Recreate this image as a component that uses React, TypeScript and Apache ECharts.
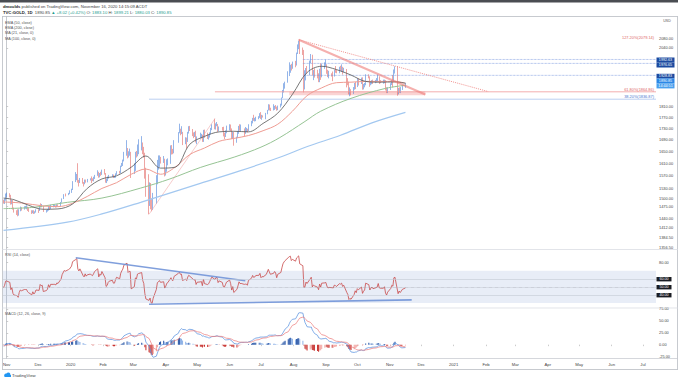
import React, { useEffect, useRef } from "react";
import * as echarts from "echarts";

const MONTH_NAMES = ["Jan", "Feb", "Mar", "Apr", "May", "Jun", "Jul", "Aug", "Sep", "Oct", "Nov", "Dec"];

// Daily candles: [day, open, high, low, close]
const oct2019 = [[29, 1493, 1495, 1483, 1488], [30, 1488, 1499, 1482, 1496], [31, 1496, 1514, 1492, 1513]];
const nov2019 = [[1, 1513, 1517, 1502, 1514], [4, 1514, 1515, 1502, 1510], [5, 1510, 1510, 1480, 1484], [6, 1484, 1494, 1481, 1491], [7, 1491, 1494, 1465, 1467], [8, 1467, 1471, 1456, 1459], [11, 1459, 1463, 1449, 1456], [12, 1456, 1466, 1445, 1448], [13, 1448, 1466, 1447, 1463], [14, 1463, 1474, 1460, 1471], [15, 1471, 1472, 1462, 1468], [18, 1468, 1475, 1465, 1472], [19, 1472, 1476, 1468, 1472], [20, 1472, 1478, 1466, 1472], [21, 1472, 1474, 1461, 1465], [22, 1465, 1470, 1458, 1462], [25, 1462, 1463, 1452, 1455], [26, 1455, 1463, 1454, 1462], [27, 1462, 1463, 1452, 1455], [28, 1455, 1460, 1453, 1458], [29, 1458, 1466, 1456, 1464]];
const dec2019 = [[2, 1464, 1466, 1455, 1463], [3, 1463, 1479, 1461, 1477], [4, 1477, 1484, 1471, 1474], [5, 1474, 1482, 1472, 1475], [6, 1475, 1476, 1458, 1460], [9, 1460, 1464, 1456, 1462], [10, 1462, 1467, 1459, 1465], [11, 1465, 1476, 1462, 1475], [12, 1475, 1477, 1464, 1469], [13, 1469, 1480, 1466, 1476], [16, 1476, 1479, 1472, 1476], [17, 1476, 1480, 1473, 1476], [18, 1476, 1478, 1471, 1475], [19, 1475, 1481, 1472, 1479], [20, 1479, 1481, 1474, 1478], [23, 1478, 1488, 1476, 1487], [24, 1487, 1499, 1486, 1498], [26, 1498, 1512, 1497, 1511], [27, 1511, 1514, 1505, 1510], [30, 1510, 1516, 1509, 1515], [31, 1515, 1524, 1512, 1517]];
const jan2020 = [[2, 1517, 1529, 1516, 1528], [3, 1528, 1553, 1525, 1551], [6, 1551, 1582, 1550, 1566], [7, 1566, 1576, 1556, 1574], [8, 1574, 1611, 1548, 1556], [9, 1556, 1557, 1536, 1552], [10, 1552, 1563, 1547, 1562], [13, 1562, 1563, 1545, 1548], [14, 1548, 1550, 1536, 1545], [15, 1545, 1558, 1543, 1557], [16, 1557, 1558, 1548, 1552], [17, 1552, 1560, 1549, 1557], [20, 1557, 1562, 1555, 1560], [21, 1560, 1568, 1547, 1558], [22, 1558, 1562, 1553, 1557], [23, 1557, 1567, 1552, 1563], [24, 1563, 1573, 1560, 1571], [27, 1571, 1588, 1570, 1582], [28, 1582, 1583, 1564, 1567], [29, 1567, 1579, 1565, 1577], [30, 1577, 1583, 1570, 1575], [31, 1575, 1590, 1573, 1589]];
const feb2020 = [[3, 1589, 1592, 1574, 1576], [4, 1576, 1579, 1548, 1553], [5, 1553, 1561, 1547, 1556], [6, 1556, 1568, 1553, 1566], [7, 1566, 1573, 1561, 1570], [10, 1570, 1575, 1566, 1573], [11, 1573, 1574, 1563, 1566], [12, 1566, 1570, 1563, 1566], [13, 1566, 1578, 1564, 1576], [14, 1576, 1585, 1573, 1584], [17, 1584, 1586, 1577, 1581], [18, 1581, 1603, 1578, 1601], [19, 1601, 1612, 1599, 1611], [20, 1611, 1623, 1602, 1620], [21, 1620, 1649, 1617, 1643], [24, 1643, 1689, 1636, 1658], [25, 1658, 1662, 1627, 1636], [26, 1636, 1651, 1630, 1642], [27, 1642, 1660, 1636, 1642], [28, 1642, 1649, 1563, 1585]];
const mar2020 = [[2, 1585, 1611, 1576, 1594], [3, 1594, 1649, 1586, 1640], [4, 1640, 1652, 1630, 1636], [5, 1636, 1674, 1634, 1669], [6, 1669, 1692, 1641, 1673], [9, 1673, 1703, 1654, 1680], [10, 1680, 1681, 1641, 1649], [11, 1649, 1666, 1630, 1635], [12, 1635, 1646, 1561, 1576], [13, 1576, 1596, 1504, 1529], [16, 1529, 1575, 1451, 1514], [17, 1514, 1549, 1476, 1526], [18, 1526, 1547, 1466, 1477], [19, 1477, 1499, 1460, 1472], [20, 1472, 1516, 1464, 1498], [23, 1498, 1572, 1483, 1553], [24, 1553, 1622, 1543, 1610], [25, 1610, 1637, 1590, 1617], [26, 1617, 1637, 1599, 1629], [27, 1629, 1632, 1610, 1617], [30, 1617, 1635, 1612, 1622], [31, 1622, 1626, 1568, 1577]];
const apr2020 = [[1, 1577, 1593, 1571, 1591], [2, 1591, 1624, 1583, 1614], [3, 1614, 1627, 1604, 1620], [6, 1620, 1671, 1609, 1663], [7, 1663, 1672, 1640, 1647], [8, 1647, 1659, 1641, 1646], [9, 1646, 1689, 1644, 1683], [13, 1683, 1717, 1680, 1714], [14, 1714, 1747, 1713, 1727], [15, 1727, 1729, 1706, 1716], [16, 1716, 1738, 1710, 1718], [17, 1718, 1718, 1672, 1683], [20, 1683, 1699, 1675, 1694], [21, 1694, 1698, 1660, 1686], [22, 1686, 1718, 1683, 1714], [23, 1714, 1738, 1712, 1731], [24, 1731, 1739, 1721, 1726], [27, 1726, 1728, 1703, 1712], [28, 1712, 1716, 1696, 1706], [29, 1706, 1718, 1700, 1712], [30, 1712, 1722, 1681, 1686]];
const may2020 = [[1, 1686, 1702, 1675, 1700], [4, 1700, 1715, 1695, 1702], [5, 1702, 1711, 1697, 1705], [6, 1705, 1708, 1683, 1685], [7, 1685, 1725, 1683, 1725], [8, 1725, 1726, 1697, 1702], [11, 1702, 1715, 1693, 1697], [12, 1697, 1709, 1691, 1702], [13, 1702, 1716, 1698, 1715], [14, 1715, 1732, 1709, 1729], [15, 1729, 1745, 1724, 1743], [18, 1743, 1765, 1727, 1733], [19, 1733, 1748, 1726, 1745], [20, 1745, 1753, 1738, 1745], [21, 1745, 1746, 1718, 1725], [22, 1725, 1737, 1720, 1734], [25, 1734, 1735, 1722, 1728], [26, 1728, 1736, 1702, 1710], [27, 1710, 1715, 1693, 1708], [28, 1708, 1723, 1700, 1718], [29, 1718, 1740, 1713, 1730]];
const jun2020 = [[1, 1730, 1745, 1723, 1740], [2, 1740, 1744, 1721, 1727], [3, 1727, 1730, 1693, 1699], [4, 1699, 1718, 1693, 1714], [5, 1714, 1718, 1670, 1684], [8, 1684, 1701, 1680, 1698], [9, 1698, 1721, 1696, 1715], [10, 1715, 1739, 1711, 1737], [11, 1737, 1745, 1722, 1729], [12, 1729, 1744, 1721, 1730], [15, 1730, 1730, 1703, 1726], [16, 1726, 1735, 1711, 1727], [17, 1727, 1732, 1717, 1727], [18, 1727, 1729, 1716, 1723], [19, 1723, 1745, 1720, 1743], [22, 1743, 1757, 1738, 1754], [23, 1754, 1768, 1748, 1768], [24, 1768, 1779, 1757, 1762], [25, 1762, 1768, 1755, 1764], [26, 1764, 1772, 1756, 1771], [29, 1771, 1774, 1763, 1772], [30, 1772, 1785, 1768, 1781]];
const jul2020 = [[1, 1781, 1789, 1764, 1770], [2, 1770, 1779, 1761, 1775], [3, 1775, 1777, 1769, 1774], [6, 1774, 1786, 1763, 1784], [7, 1784, 1797, 1781, 1795], [8, 1795, 1818, 1795, 1809], [9, 1809, 1817, 1795, 1803], [10, 1803, 1805, 1793, 1798], [13, 1798, 1818, 1795, 1802], [14, 1802, 1812, 1797, 1810], [15, 1810, 1815, 1801, 1807], [16, 1807, 1809, 1794, 1797], [17, 1797, 1813, 1796, 1810], [20, 1810, 1820, 1806, 1818], [21, 1818, 1843, 1813, 1842], [22, 1842, 1872, 1841, 1871], [23, 1871, 1898, 1862, 1888], [24, 1888, 1904, 1877, 1902], [27, 1902, 1945, 1900, 1942], [28, 1942, 1981, 1926, 1958], [29, 1958, 1971, 1939, 1970], [30, 1970, 1975, 1948, 1958], [31, 1958, 1984, 1955, 1975]];
const aug2020 = [[3, 1975, 1987, 1961, 1970], [4, 1970, 2021, 1968, 2019], [5, 2019, 2055, 2015, 2039], [6, 2039, 2070, 2035, 2062], [7, 2062, 2075, 2015, 2035], [10, 2035, 2042, 2011, 2028], [11, 2028, 2032, 1863, 1912], [12, 1912, 1949, 1874, 1915], [13, 1915, 1958, 1909, 1954], [14, 1954, 1966, 1935, 1944], [17, 1944, 1988, 1929, 1985], [18, 1985, 2015, 1978, 2002], [19, 2002, 2012, 1928, 1929], [20, 1929, 1950, 1910, 1946], [21, 1946, 1957, 1920, 1940], [24, 1940, 1951, 1917, 1929], [25, 1929, 1937, 1902, 1908], [26, 1908, 1955, 1902, 1954], [27, 1954, 1977, 1911, 1929], [28, 1929, 1974, 1921, 1964], [31, 1964, 1981, 1955, 1967]];
const sep2020 = [[1, 1967, 1992, 1963, 1970], [2, 1970, 1973, 1935, 1944], [3, 1944, 1951, 1922, 1930], [4, 1930, 1947, 1917, 1934], [7, 1934, 1937, 1924, 1932], [8, 1932, 1944, 1906, 1930], [9, 1930, 1951, 1924, 1947], [10, 1947, 1966, 1939, 1946], [11, 1946, 1952, 1937, 1940], [14, 1940, 1963, 1937, 1956], [15, 1956, 1967, 1947, 1954], [16, 1954, 1973, 1943, 1959], [17, 1959, 1963, 1932, 1944], [18, 1944, 1959, 1940, 1950], [21, 1950, 1954, 1882, 1912], [22, 1912, 1918, 1890, 1899], [23, 1899, 1904, 1855, 1863], [24, 1863, 1882, 1848, 1868], [25, 1868, 1875, 1851, 1861], [28, 1861, 1883, 1857, 1881], [29, 1881, 1899, 1873, 1898], [30, 1898, 1903, 1875, 1887]];
const oct2020 = [[1, 1887, 1917, 1883, 1906], [2, 1906, 1917, 1889, 1900], [5, 1900, 1920, 1895, 1913], [6, 1913, 1921, 1873, 1877], [7, 1877, 1895, 1874, 1887], [8, 1887, 1899, 1882, 1893], [9, 1893, 1933, 1890, 1930], [12, 1930, 1933, 1917, 1922], [13, 1922, 1925, 1884, 1892], [14, 1892, 1906, 1890, 1902], [15, 1902, 1910, 1894, 1908], [16, 1908, 1912, 1895, 1899], [19, 1899, 1911, 1898, 1904], [20, 1904, 1918, 1900, 1907], [21, 1907, 1932, 1905, 1924], [22, 1924, 1925, 1895, 1904], [23, 1904, 1910, 1898, 1902], [26, 1902, 1912, 1896, 1902], [27, 1902, 1912, 1898, 1908], [28, 1908, 1910, 1870, 1878], [29, 1878, 1882, 1860, 1868], [30, 1868, 1882, 1860, 1879]];
const nov2020 = [[2, 1879, 1898, 1872, 1894], [3, 1894, 1910, 1891, 1908], [4, 1908, 1930, 1882, 1904], [5, 1904, 1952, 1902, 1948], [6, 1948, 1965, 1936, 1951], [9, 1951, 1966, 1850, 1862], [10, 1862, 1880, 1855, 1877], [11, 1877, 1882, 1861, 1866], [12, 1866, 1883, 1860, 1874], [13, 1874, 1892, 1872, 1882.83], [16, 1883.1, 1899.21, 1880.03, 1890.85]];

const candleMonths: [string, number[][]][] = [
  ["2019-10", oct2019], ["2019-11", nov2019], ["2019-12", dec2019], ["2020-01", jan2020],
  ["2020-02", feb2020], ["2020-03", mar2020], ["2020-04", apr2020], ["2020-05", may2020],
  ["2020-06", jun2020], ["2020-07", jul2020], ["2020-08", aug2020], ["2020-09", sep2020],
  ["2020-10", oct2020], ["2020-11", nov2020],
];

// Moving averages
const ma21Points: [string, number][] = [["2019-10-29", 1500], ["2019-11-08", 1495], ["2019-11-22", 1478], ["2019-12-06", 1466], ["2019-12-20", 1467], ["2020-01-03", 1482], ["2020-01-17", 1530], ["2020-01-31", 1560], ["2020-02-14", 1570], ["2020-02-28", 1598], ["2020-03-13", 1635], ["2020-03-27", 1595], ["2020-04-10", 1598], ["2020-04-24", 1675], ["2020-05-08", 1702], ["2020-05-22", 1718], ["2020-06-05", 1720], ["2020-06-19", 1718], ["2020-07-03", 1748], ["2020-07-17", 1785], ["2020-07-31", 1855], ["2020-08-14", 1940], ["2020-08-28", 1965], ["2020-09-11", 1952], ["2020-09-25", 1930], ["2020-10-09", 1905], ["2020-10-23", 1902], ["2020-11-06", 1903], ["2020-11-16", 1898]];
const ema50Points: [string, number][] = [["2019-10-29", 1488], ["2019-11-15", 1485], ["2019-12-06", 1476], ["2019-12-20", 1474], ["2020-01-03", 1484], ["2020-01-17", 1505], ["2020-01-31", 1530], ["2020-02-14", 1548], ["2020-02-28", 1575], ["2020-03-13", 1592], ["2020-03-27", 1575], ["2020-04-10", 1598], ["2020-04-24", 1640], ["2020-05-08", 1662], ["2020-05-22", 1685], ["2020-06-05", 1695], ["2020-06-19", 1705], ["2020-07-03", 1722], ["2020-07-17", 1745], ["2020-07-31", 1792], ["2020-08-14", 1850], ["2020-08-28", 1880], ["2020-09-11", 1900], ["2020-09-25", 1902], ["2020-10-09", 1905], ["2020-10-23", 1905], ["2020-11-06", 1905], ["2020-11-16", 1898]];
const ma100Points: [string, number][] = [["2019-10-29", 1468], ["2019-11-27", 1472], ["2019-12-29", 1487], ["2020-01-31", 1500], ["2020-03-08", 1531], ["2020-04-05", 1560], ["2020-05-04", 1597], ["2020-06-06", 1632], ["2020-07-01", 1665], ["2020-07-19", 1698], ["2020-08-12", 1755], ["2020-08-27", 1792], ["2020-09-25", 1840], ["2020-10-28", 1878], ["2020-11-16", 1890]];
const ema200Points: [string, number][] = [["2019-10-29", 1404], ["2019-12-29", 1428], ["2020-01-31", 1452], ["2020-03-08", 1487], ["2020-05-04", 1546], ["2020-06-10", 1585], ["2020-07-19", 1631], ["2020-08-15", 1668], ["2020-09-15", 1706], ["2020-10-15", 1750], ["2020-11-16", 1788]];

// Drawings
const triangleTop: [string, number][] = [["2020-08-06", 2075], ["2020-12-05", 1855]];
const triangleDotted: [string, number][] = [["2020-08-06", 2075], ["2021-02-03", 1866]];
const fibDiagonal: [string, number][] = [["2020-03-16", 1451], ["2020-05-18", 1765]];
const supportZone = { from: "2020-07-28", to: "2020-12-05", low: 1852, high: 1866 };
const fib618 = { from: "2020-05-18", price: 1864.86 };
const fib382 = { from: "2020-03-16", price: 1836.87 };
const dottedLevels = { from: "2020-08-10", prices: [1992.63, 1976.65, 1928.83] };
const rsiUpperTrend: [string, number][] = [["2020-01-06", 86], ["2020-06-16", 57.5]];
const rsiLowerTrend: [string, number][] = [["2020-03-16", 28.4], ["2020-11-22", 33.8]];
const rsiLevels = [60, 50, 40];

// Axis ticks
const priceTickLabels = [2080, 2040, 1810, 1770, 1730, 1690, 1650, 1610, 1570, 1530, 1500, 1475, 1440, 1412, 1384.5, 1356.5];
const rsiTickLabels = [80];
const macdTickLabels = [75, 50, 25, 0, -25];
const monthTicks = ["2019-11-01", "2019-12-01", "2020-01-01", "2020-02-01", "2020-03-01", "2020-04-01", "2020-05-01", "2020-06-01", "2020-07-01", "2020-08-01", "2020-09-01", "2020-10-01", "2020-11-01", "2020-12-01", "2021-01-01", "2021-02-01", "2021-03-01", "2021-04-01", "2021-05-01", "2021-06-01", "2021-07-01"];

// Indicator starting states at its left edge
const rsiSeed = { gain: 5.5, loss: 5.7 };
const macdSeed = { fast: 1488, slow: 1491, signal: -2 };

const FONT = "'Liberation Sans', Arial, sans-serif";
const UP = "#3a78d6";
const DOWN = "#e05a57";

const X0 = Date.UTC(2019, 10, 1);
const dx = (s: string) => (Date.parse(s + "T00:00:00Z") - X0) / 864e5;
const pad = (n: number) => String(n).padStart(2, "0");
const ln = Math.log;
const XMIN = -3.5;
const XMAX = 620.4;

function buildOption() {
  const candles = candleMonths.flatMap(([ym, rows]) =>
    rows.map((r) => ({ x: dx(`${ym}-${pad(r[0])}`), o: r[1], h: r[2], l: r[3], c: r[4] }))
  );
  const closes = candles.map((c) => c.c);

  // RSI (14, Wilder)
  const rsi: number[][] = [];
  let ag = rsiSeed.gain, al = rsiSeed.loss;
  for (let i = 0; i < closes.length; i++) {
    if (i > 0) {
      const ch = closes[i] - closes[i - 1];
      ag = (ag * 13 + Math.max(ch, 0)) / 14;
      al = (al * 13 + Math.max(-ch, 0)) / 14;
    }
    rsi.push([candles[i].x, 100 - 100 / (1 + ag / al)]);
  }

  // MACD (12, 26, 9)
  let ef = macdSeed.fast, es = macdSeed.slow, sg = macdSeed.signal;
  const macdLine: number[][] = [], sigLine: number[][] = [], hist: any[] = [];
  let prevH = 0;
  for (let i = 0; i < closes.length; i++) {
    const c = closes[i];
    ef = ef + (2 / 13) * (c - ef);
    es = es + (2 / 27) * (c - es);
    const m = ef - es;
    sg = sg + (2 / 10) * (m - sg);
    const h = m - sg;
    let color;
    if (h >= 0) color = h >= prevH ? "#1f4fa3" : "#8fb2e6";
    else color = h < prevH ? "#c62f2c" : "#f2a4a0";
    prevH = h;
    macdLine.push([candles[i].x, m]);
    sigLine.push([candles[i].x, sg]);
    hist.push({ value: [candles[i].x, h], itemStyle: { color } });
  }

  const maSeries = (pts: [string, number][], color: string, w: number) => ({
    type: "line", xAxisIndex: 0, yAxisIndex: 0, smooth: 0.35, symbol: "none", silent: true,
    data: pts.map(([d, v]) => [dx(d), ln(v)]),
    lineStyle: { color, width: w },
  });
  const segP = (pts: [string, number][], color: string, w: number, type = "solid", opacity = 1) => ({
    type: "line", xAxisIndex: 0, yAxisIndex: 0, symbol: "none", silent: true,
    data: pts.map(([d, v]) => [dx(d), ln(v)]),
    lineStyle: { color, width: w, type, opacity },
  });
  const hLineP = (from: string, price: number, color: string, w: number, type = "solid") => ({
    type: "line", xAxisIndex: 0, yAxisIndex: 0, symbol: "none", silent: true,
    data: [[dx(from), ln(price)], [XMAX, ln(price)]],
    lineStyle: { color, width: w, type },
  });
  const segR = (pts: [string, number][]) => ({
    type: "line", xAxisIndex: 1, yAxisIndex: 1, symbol: "none", silent: true,
    data: pts.map(([d, v]) => [dx(d), v]),
    lineStyle: { color: "#6a8ed6", width: 1.6, opacity: 0.85 },
  });

  const monthVals = monthTicks.map(dx);
  const lnTicks = priceTickLabels.map(ln);

  const txt = (x: number, y: number, text: string, o: any = {}) => ({
    type: "text", x, y, silent: true, z: 100,
    style: {
      text, fill: o.fill || "#444", fontSize: o.size || 4.2, fontFamily: FONT,
      fontWeight: o.weight || "normal",
      align: o.align || "left", textAlign: o.align || "left",
      verticalAlign: "middle", textVerticalAlign: "middle",
      rich: o.rich,
    },
  });
  const line = (x1: number, y1: number, x2: number, y2: number, color = "#c9ccd3", w = 0.7) => ({
    type: "line", silent: true, z: 90, shape: { x1, y1, x2, y2 }, style: { stroke: color, lineWidth: w },
  });
  const box = (y: number, h: number, text: string, fill: string, w = 18) => [
    { type: "rect", silent: true, z: 95, shape: { x: 656.5, y, width: w, height: h }, style: { fill } },
    txt(656.5 + w / 2, y + h / 2, text, { fill: "#fff", size: 3.7, align: "center" }),
  ];
  const rich = {
    b: { fontWeight: "bold", fontSize: 4.2, fontFamily: FONT, fill: "#222", color: "#222" },
    g: { fontSize: 4.2, fontFamily: FONT, fill: "#1f9d8f", color: "#1f9d8f" },
  };

  const graphic: any[] = [
    { type: "rect", silent: true, z: 90, shape: { x: 0, y: 0, width: 678, height: 2.5 }, style: { fill: "#4a4d52" } },
    txt(3, 6.5, "{b|dmoulds} published on TradingView.com, November 16, 2020 14:15:09 ACDT", { rich }),
    txt(3, 12, "{b|TVC:GOLD, 1D}  1890.85 {g|▲ +8.02 (+0.42%)} O: {g|1883.10} H: {g|1899.21} L: {g|1880.03} C: {g|1890.85}", { rich }),
    line(2, 16.5, 678, 16.5, "#b9bcc3", 0.8),
    line(2.5, 16.5, 2.5, 369.5, "#b9bcc3", 0.8),
    line(677.5, 16.5, 677.5, 369.5, "#b9bcc3", 0.8),
    line(2, 249.5, 678, 249.5, "#d6d9df", 0.7),
    line(2, 308, 678, 308, "#d6d9df", 0.7),
    line(2, 358.5, 678, 358.5, "#c3c6cd", 0.7),
    line(2, 369.5, 678, 369.5, "#b9bcc3", 0.8),
    txt(5, 22.7, "EMA (50, close)", { size: 3.8, fill: "#555" }),
    txt(5, 28, "EMA (200, close)", { size: 3.8, fill: "#555" }),
    txt(5, 33.3, "MA (21, close, 0)", { size: 3.8, fill: "#555" }),
    txt(5, 38.6, "MA (100, close, 0)", { size: 3.8, fill: "#555" }),
    txt(5, 254.5, "RSI (14, close)", { size: 3.8, fill: "#555" }),
    txt(5, 314, "MACD (12, 26, close, 9)", { size: 3.8, fill: "#555" }),
    txt(667, 21, "USD", { size: 3.6, fill: "#555", align: "center" }),
    txt(654, 37.5, "127.20%(2079.14)", { size: 3.9, fill: "#e06666", align: "right" }),
    txt(654, 89.5, "61.80%(1864.86)", { size: 3.9, fill: "#e06666", align: "right" }),
    txt(654, 96.8, "38.20%(1836.87)", { size: 3.9, fill: "#4a78d0", align: "right" }),
    ...box(57.5, 5, "1992.63", "#1b4aa0"),
    ...box(62.5, 5, "1976.65", "#1b4aa0"),
    ...box(73.8, 4.6, "1928.83", "#1b4aa0"),
    ...box(78.4, 5, "1890.85", "#2b87e6"),
    ...box(83.4, 5, "14:44:51", "#4aa0ee"),
    ...box(277, 4.4, "60.00", "#1a1d24", 15),
    ...box(285, 4.4, "50.00", "#1a1d24", 15),
    ...box(293, 4.4, "40.00", "#1a1d24", 15),
    { type: "circle", silent: true, z: 95, shape: { cx: 6, cy: 375.3, r: 1.7 }, style: { fill: "#2196f3" } },
    { type: "circle", silent: true, z: 95, shape: { cx: 8.3, cy: 374.6, r: 2.1 }, style: { fill: "#2196f3" } },
    { type: "rect", silent: true, z: 95, shape: { x: 4.5, y: 375, width: 6.5, height: 2 }, style: { fill: "#2196f3" } },
    txt(12, 375.6, "TradingView", { size: 4.3, fill: "#444" }),
  ];

  const xAxisBase = (i: number) => ({
    type: "value", gridIndex: i, min: XMIN, max: XMAX,
    splitLine: { show: false }, axisLine: { show: false }, axisTick: { show: false }, axisLabel: { show: false },
  });

  return {
    animation: false,
    backgroundColor: "#ffffff",
    grid: [
      { left: 3, right: 22, top: 16.5, height: 233 },
      { left: 3, right: 22, top: 249.5, height: 58.5 },
      { left: 3, right: 22, top: 308, height: 50.5 },
    ],
    xAxis: [
      xAxisBase(0),
      xAxisBase(1),
      {
        ...xAxisBase(2),
        axisTick: { show: true, length: 1.5, inside: false, customValues: monthVals, lineStyle: { color: "#999", width: 0.5 } },
        axisLabel: {
          show: true, customValues: monthVals, fontSize: 4.2, fontFamily: FONT, color: "#444", margin: 4,
          formatter: (v: number) => {
            const d = new Date(X0 + Math.round(v) * 864e5);
            const m = d.getUTCMonth();
            return m === 0 ? String(d.getUTCFullYear()) : MONTH_NAMES[m];
          },
        },
      },
    ],
    yAxis: [
      {
        type: "value", gridIndex: 0, position: "right", min: ln(1350), max: ln(2176),
        splitLine: { show: false },
        axisLine: { show: true, lineStyle: { color: "#b9bcc3", width: 0.8 } },
        axisTick: { show: true, length: 1.5, customValues: lnTicks, lineStyle: { color: "#999", width: 0.5 } },
        axisLabel: {
          customValues: lnTicks, fontSize: 3.9, fontFamily: FONT, color: "#444", margin: 3,
          formatter: (v: number) => Math.exp(v).toFixed(2),
        },
      },
      {
        type: "value", gridIndex: 1, position: "right", min: 23.75, max: 96.25,
        splitLine: { show: false },
        axisLine: { show: true, lineStyle: { color: "#b9bcc3", width: 0.8 } },
        axisTick: { show: true, length: 1.5, customValues: rsiTickLabels, lineStyle: { color: "#999", width: 0.5 } },
        axisLabel: { customValues: rsiTickLabels, fontSize: 3.9, fontFamily: FONT, color: "#444", margin: 3, formatter: (v: number) => v.toFixed(2) },
      },
      {
        type: "value", gridIndex: 2, position: "right", min: -29, max: 77,
        splitLine: { show: false },
        axisLine: { show: true, lineStyle: { color: "#b9bcc3", width: 0.8 } },
        axisTick: { show: true, length: 1.5, customValues: macdTickLabels, lineStyle: { color: "#999", width: 0.5 } },
        axisLabel: { customValues: macdTickLabels, fontSize: 3.9, fontFamily: FONT, color: "#444", margin: 3, formatter: (v: number) => v.toFixed(2) },
      },
    ],
    series: [
      {
        type: "line", xAxisIndex: 0, yAxisIndex: 0, data: [], silent: true,
        markArea: {
          silent: true,
          itemStyle: { color: "rgba(240,120,120,0.33)" },
          data: [[{ xAxis: dx(supportZone.from), yAxis: ln(supportZone.low) }, { xAxis: dx(supportZone.to), yAxis: ln(supportZone.high) }]],
        },
      },
      hLineP(fib382.from, fib382.price, "#a9c3ee", 0.8),
      hLineP(fib618.from, fib618.price, "#f09a9a", 0.8),
      ...dottedLevels.prices.map((p) => hLineP(dottedLevels.from, p, "#6f8fdc", 0.7, "dotted")),
      segP(fibDiagonal, "#f0a0a0", 0.6, "solid", 0.9),
      maSeries(ema200Points, "#a3c8f0", 1.2),
      maSeries(ma100Points, "#96c494", 1),
      maSeries(ema50Points, "#ef9c93", 1),
      {
        type: "candlestick", xAxisIndex: 0, yAxisIndex: 0, silent: true,
        data: candles.map((c) => [c.x, ln(c.o), ln(c.c), ln(c.l), ln(c.h)]),
        encode: { x: 0, y: [1, 2, 3, 4] },
        barWidth: 1.1,
        itemStyle: { color: UP, color0: DOWN, borderColor: UP, borderColor0: DOWN, borderWidth: 0.55 },
      },
      maSeries(ma21Points, "#5f5f5f", 0.85),
      segP(triangleTop, "#ee7b78", 2.2, "solid", 0.6),
      segP(triangleDotted, "#ef8a86", 1, "dotted", 0.9),
      {
        type: "line", xAxisIndex: 1, yAxisIndex: 1, symbol: "none", silent: true,
        data: rsi, lineStyle: { color: "#c94a4a", width: 0.8 },
        markArea: { silent: true, itemStyle: { color: "rgba(120,150,210,0.17)" }, data: [[{ yAxis: 30 }, { yAxis: 70 }]] },
        markLine: {
          silent: true, symbol: "none", label: { show: false },
          data: rsiLevels.map((v) => ({
            yAxis: v,
            lineStyle: { color: v === 50 ? "#9a9da6" : "#c3c9d4", width: 0.6, type: v === 50 ? "dotted" : "solid" },
          })),
        },
      },
      segR(rsiUpperTrend),
      segR(rsiLowerTrend),
      { type: "bar", xAxisIndex: 2, yAxisIndex: 2, silent: true, barWidth: 1, data: hist },
      { type: "line", xAxisIndex: 2, yAxisIndex: 2, symbol: "none", silent: true, data: macdLine, lineStyle: { color: "#5b93e0", width: 0.75 } },
      { type: "line", xAxisIndex: 2, yAxisIndex: 2, symbol: "none", silent: true, data: sigLine, lineStyle: { color: "#ec7f7f", width: 0.75 } },
    ],
    graphic,
  };
}

export default function App() {
  const ref = useRef<HTMLDivElement>(null);
  useEffect(() => {
    if (!ref.current) return;
    const chart = echarts.init(ref.current, undefined, { renderer: "svg" });
    chart.setOption(buildOption() as any);
    return () => chart.dispose();
  }, []);
  return (
    <div
      ref={ref}
      style={{ position: "fixed", left: 0, top: 0, width: 678, height: 379, background: "#fff" }}
    />
  );
}
